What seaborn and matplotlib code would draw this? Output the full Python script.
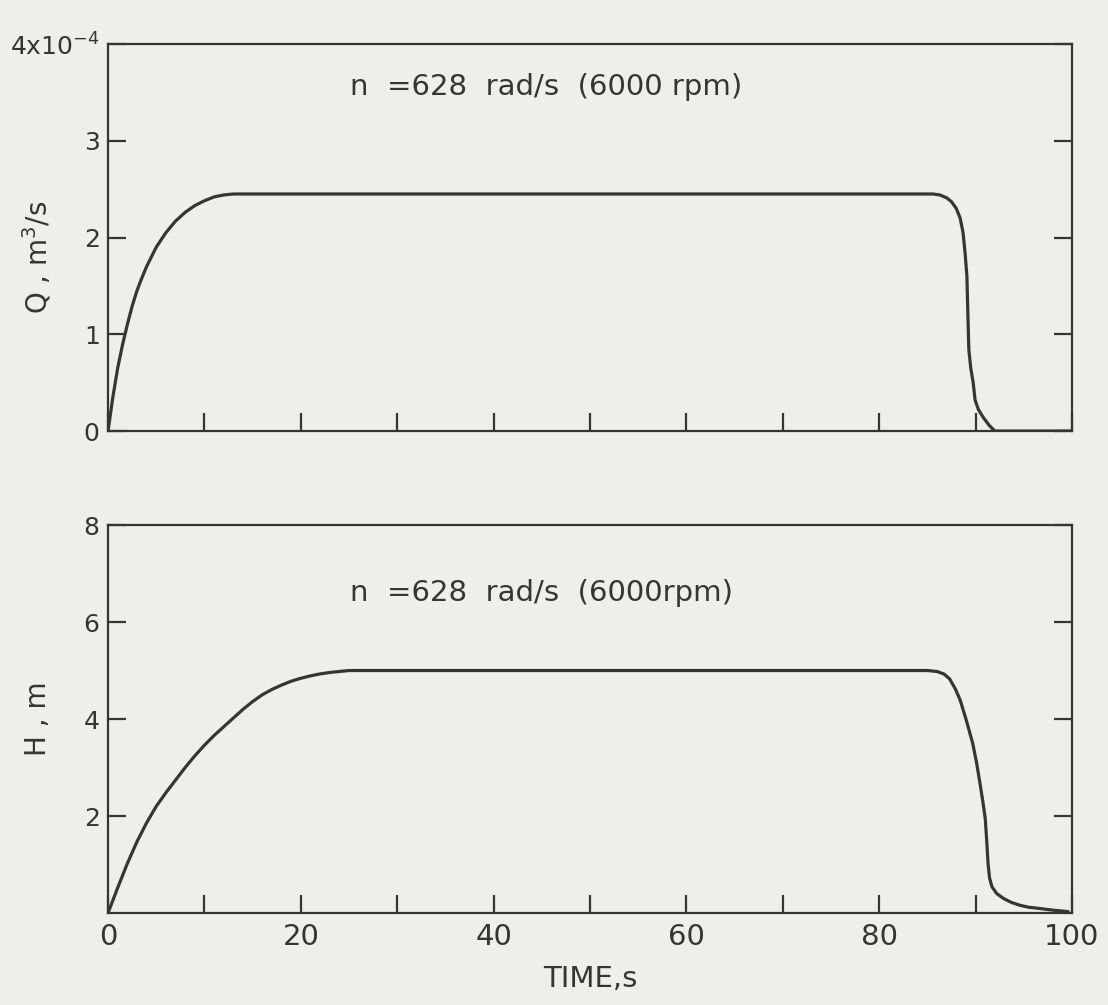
import pandas as pd
import matplotlib
matplotlib.use("Agg")
import matplotlib.pyplot as plt
import seaborn as sns

# flow rate Q (x1e-4 m3/s) against time
q_time = [0, 0.5, 1, 1.5, 2, 2.5, 3, 3.5, 4, 5, 6, 7, 8, 9, 10, 11, 12, 13,
          85.6, 86.3, 87, 87.5, 88, 88.4, 88.7, 88.9, 89.1, 89.2, 89.3, 89.5,
          89.75, 89.95, 90.3, 90.8, 91.4, 92, 100]
q_vals = [0, 0.35, 0.65, 0.89, 1.1, 1.29, 1.45, 1.58, 1.7, 1.9, 2.05, 2.17, 2.26,
          2.33, 2.38, 2.42, 2.44, 2.45,
          2.45, 2.44, 2.41, 2.37, 2.3, 2.2, 2.05, 1.85, 1.6, 1.2, 0.84, 0.65,
          0.5, 0.32, 0.22, 0.14, 0.06, 0.0, 0.0]

# head H (m) against time
h_time = [0, 1, 2, 3, 4, 5, 6, 7, 8, 9, 10, 11, 12, 13, 14, 15, 16, 17, 18, 19,
          20, 21, 22, 23, 24, 25,
          85, 86, 86.7, 87.3, 87.9, 88.4, 89, 89.7, 90.1, 90.45, 90.75, 91.0,
          91.15, 91.3, 91.45, 91.7, 92.2, 92.9, 93.7, 94.6, 95.5, 96.4, 98, 99.6]
h_vals = [0, 0.52, 1.02, 1.47, 1.86, 2.2, 2.48, 2.74, 3.0, 3.24, 3.46, 3.66, 3.84,
          4.02, 4.2, 4.36, 4.5, 4.61, 4.7, 4.78, 4.84, 4.89, 4.93, 4.96, 4.98, 5.0,
          5.0, 4.98, 4.93, 4.83, 4.62, 4.39, 4.0, 3.5, 3.1, 2.68, 2.3, 1.95,
          1.5, 1.0, 0.72, 0.54, 0.4, 0.3, 0.22, 0.16, 0.12, 0.1, 0.06, 0.03]

q_ticks = [0, 1, 2, 3, 4]
q_labels = ["0", "1", "2", "3", r"4x10$^{-4}$"]
h_ticks = [2, 4, 6, 8]
x_ticks = [0, 20, 40, 60, 80, 100]
x_minor = [10, 30, 50, 70, 90]
note_q = "n  =628  rad/s  (6000 rpm)"
note_h = "n  =628  rad/s  (6000rpm)"

df_q = pd.DataFrame({"t": q_time, "Q": q_vals})
df_h = pd.DataFrame({"t": h_time, "H": h_vals})

sns.set_theme(style="ticks")
plt.rcParams["font.family"] = ["DejaVu Sans"]
ink = "#353535"
bg = "#efefe9"

fig = plt.figure(figsize=(11.08, 10.05), dpi=100, facecolor=bg)
ax1 = fig.add_axes([0.0975, 0.5711, 0.870, 0.3851])
ax2 = fig.add_axes([0.0975, 0.0915, 0.870, 0.3861])

sns.lineplot(data=df_q, x="t", y="Q", ax=ax1, color=ink, linewidth=2.3, sort=False)
sns.lineplot(data=df_h, x="t", y="H", ax=ax2, color=ink, linewidth=2.3, sort=False)

for ax in (ax1, ax2):
    ax.set_facecolor(bg)
    ax.set_xlim(0, 100)
    for s in ax.spines.values():
        s.set_color(ink)
        s.set_linewidth(1.6)
    ax.set_xticks(x_ticks)
    ax.set_xticks(x_minor, minor=True)
    ax.tick_params(axis="both", which="both", direction="in", length=13, width=1.6,
                   color=ink, labelcolor=ink, right=True, top=False)
    ax.tick_params(axis="y", labelsize=18, pad=6)
    ax.tick_params(axis="x", labelsize=21, pad=7)

ax1.set_ylim(0, 4)
ax1.set_yticks(q_ticks)
ax1.set_yticklabels(q_labels)
ax1.tick_params(axis="x", labelbottom=False)
ax1.set_xlabel("")
ax1.set_ylabel(r"Q , m$^3$/s", fontsize=20, color=ink)
ax1.yaxis.set_label_coords(-0.057, 0.45)
ax1.text(25.1, 3.56, note_q, fontsize=21, color=ink, va="center", ha="left")

ax2.set_ylim(0, 8)
ax2.set_yticks(h_ticks)
ax2.set_xlabel("TIME,s", fontsize=21, color=ink, labelpad=10)
ax2.set_ylabel("H , m", fontsize=20, color=ink)
ax2.yaxis.set_label_coords(-0.058, 0.5)
ax2.text(25.1, 6.6, note_h, fontsize=21, color=ink, va="center", ha="left")

fig.savefig("out.png", dpi=100, facecolor=bg)
